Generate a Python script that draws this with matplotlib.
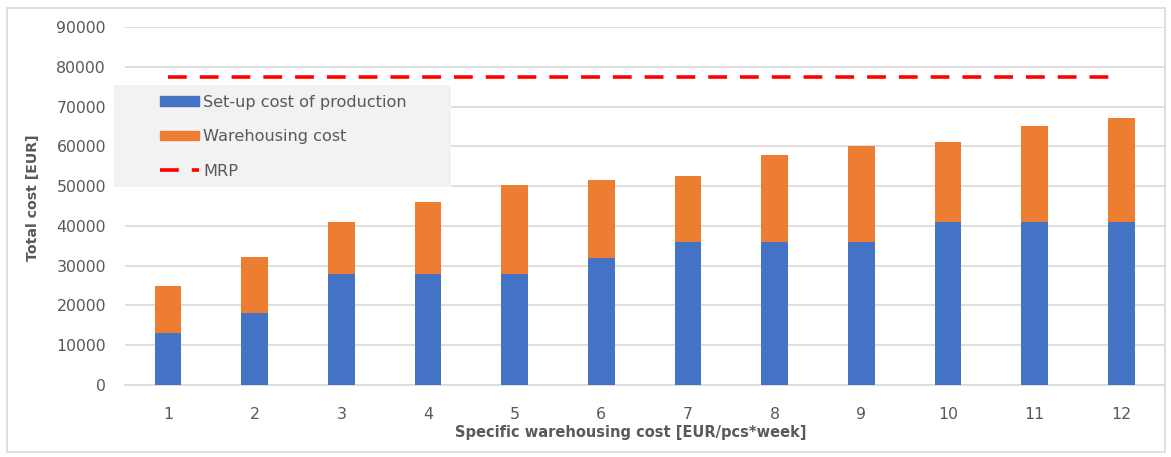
import matplotlib
matplotlib.use("Agg")
import matplotlib.pyplot as plt
from matplotlib.patches import Rectangle
from matplotlib.lines import Line2D
from matplotlib.patches import Patch

categories = [1, 2, 3, 4, 5, 6, 7, 8, 9, 10, 11, 12]
setup_cost = [13000, 18000, 28000, 28000, 28000, 32000, 36000, 36000, 36000, 41000, 41000, 41000]
total_cost = [25000, 32200, 41000, 46000, 50300, 51500, 52500, 57700, 60200, 61200, 65100, 67000]
warehousing_cost = [t - s for t, s in zip(total_cost, setup_cost)]
mrp_value = 77500
mrp = [mrp_value] * len(categories)
y_ticks = [0, 10000, 20000, 30000, 40000, 50000, 60000, 70000, 80000, 90000]

plt.rcParams['font.family'] = ['DejaVu Sans']
W, H = 1171, 457
fig = plt.figure(figsize=(W / 100, H / 100), dpi=100)
ax = fig.add_axes([124.7 / W, 1 - 385 / H, (1164.7 - 124.7) / W, (385 - 27) / H])

blue = '#4472C4'
orange = '#ED7D31'
grid = '#D9D9D9'
txt = '#595959'

x = list(range(len(categories)))
ax.bar(x, setup_cost, width=0.31, color=blue, zorder=3, label='Set-up cost of production')
ax.bar(x, warehousing_cost, width=0.31, bottom=setup_cost, color=orange, zorder=3, label='Warehousing cost')
ax.plot(x, mrp, color='#FF0000', lw=2.6, dashes=(5.2, 3.6), zorder=4, label='MRP')

ax.set_xlim(-0.5, len(categories) - 0.5)
ax.set_ylim(0, 90000)
ax.set_yticks(y_ticks)
ax.set_yticklabels([str(v) for v in y_ticks])
ax.set_xticks(x)
ax.set_xticklabels([str(c) for c in categories])
ax.yaxis.grid(True, color=grid, lw=1.2, zorder=0)
ax.set_axisbelow(True)
for s in ['top', 'right', 'left']:
    ax.spines[s].set_visible(False)
ax.spines['bottom'].set_color(grid)
ax.spines['bottom'].set_linewidth(1.2)
ax.tick_params(axis='both', length=0, colors=txt, labelsize=11.3)
ax.tick_params(axis='y', pad=13.5)
ax.tick_params(axis='x', pad=16)

fig.text(631 / W, 1 - 432 / H, 'Specific warehousing cost [EUR/pcs*week]', fontsize=10.5,
         fontweight='bold', color=txt, ha='center', va='center')
fig.text(33 / W, 1 - 198 / H, 'Total cost [EUR]', fontsize=10.2, fontweight='bold', color=txt,
         ha='center', va='center', rotation=90)

# legend background (above gridlines, below bars)
bg = Rectangle((114 / W, 1 - 187 / H), (451 - 114) / W, (187 - 85) / H, transform=fig.transFigure,
               facecolor='#F2F2F2', edgecolor='none', zorder=2, clip_on=False)
ax.add_patch(bg)

handles = [Patch(color=blue), Patch(color=orange),
           Line2D([0], [0], color='#FF0000', lw=2.6, dashes=(5.2, 3.6))]
labels = ['Set-up cost of production', 'Warehousing cost', 'MRP']
leg = ax.legend(handles, labels, loc='upper left', bbox_to_anchor=(155 / W, 1 - 90 / H),
                bbox_transform=fig.transFigure, frameon=False, fontsize=11.6, handlelength=2.4,
                handleheight=0.55, handletextpad=0.3, labelspacing=1.2, borderaxespad=0, borderpad=0.3)
leg.set_zorder(5)
for t in leg.get_texts():
    t.set_color(txt)

# figure border
fig.add_artist(Rectangle((7 / W, 1 - 452 / H), (1165 - 7) / W, (452 - 8) / H, transform=fig.transFigure,
                         facecolor='none', edgecolor='#D9D9D9', lw=1.2))

fig.savefig('out.png', dpi=100)
